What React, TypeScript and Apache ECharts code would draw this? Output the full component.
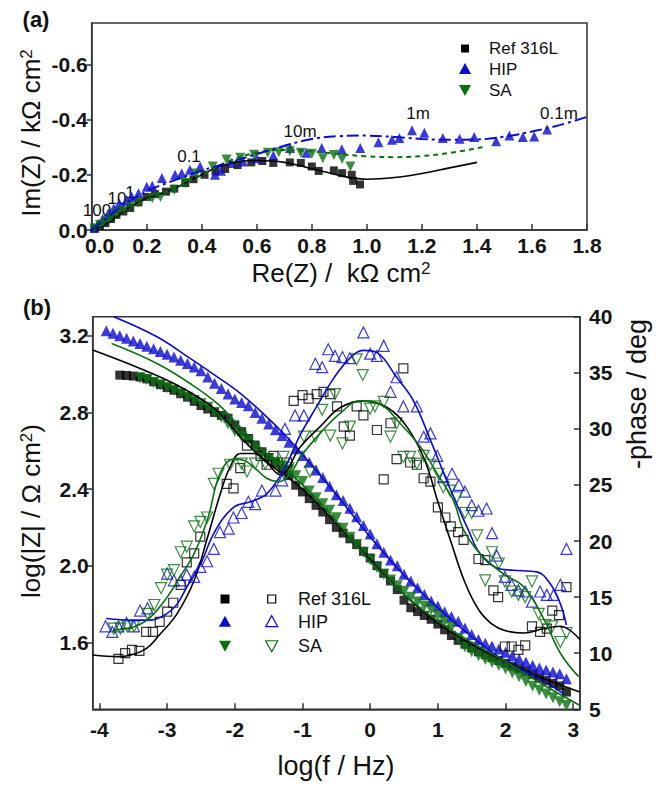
import React, { useEffect, useRef } from "react";
import * as echarts from "echarts";

// ---------- Panel (a): Nyquist data (Re(Z), -Im(Z)) in kΩ cm² ----------
const nyqRef = [[0.01,0.005],[0.03,0.015],[0.05,0.025],[0.07,0.04],[0.09,0.055],[0.115,0.067],[0.14,0.08],[0.17,0.1],[0.2,0.12],[0.23,0.13],[0.27,0.139],[0.3,0.15],[0.34,0.17],[0.37,0.184],[0.41,0.2],[0.45,0.212],[0.485,0.221],[0.53,0.235],[0.58,0.245],[0.62,0.25],[0.66,0.243],[0.72,0.245],[0.76,0.243],[0.8,0.23],[0.825,0.214],[0.88,0.216],[0.91,0.206],[0.945,0.2],[0.95,0.178],[0.975,0.165]];
const nyqHip = [[0.01,0.008],[0.025,0.024],[0.04,0.04],[0.06,0.06],[0.08,0.078],[0.1,0.097],[0.127,0.109],[0.145,0.121],[0.17,0.133],[0.2,0.157],[0.22,0.16],[0.255,0.188],[0.303,0.2],[0.327,0.206],[0.357,0.218],[0.394,0.23],[0.448,0.2],[0.47,0.215],[0.509,0.243],[0.55,0.248],[0.6,0.26],[0.66,0.27],[0.721,0.297],[0.78,0.28],[0.836,0.297],[0.909,0.293],[0.976,0.297],[1.042,0.318],[1.091,0.327],[1.118,0.333],[1.164,0.361],[1.209,0.352],[1.276,0.333],[1.337,0.331],[1.39,0.337],[1.47,0.322],[1.518,0.342],[1.567,0.337],[1.608,0.339],[1.655,0.364]];
const nyqSa = [[0.01,0.005],[0.03,0.018],[0.05,0.03],[0.07,0.045],[0.09,0.06],[0.11,0.072],[0.14,0.088],[0.17,0.1],[0.22,0.115],[0.25,0.12],[0.3,0.145],[0.34,0.17],[0.38,0.205],[0.44,0.23],[0.49,0.255],[0.54,0.262],[0.59,0.273],[0.64,0.28],[0.68,0.282],[0.72,0.285],[0.76,0.28],[0.8,0.276],[0.84,0.26],[0.88,0.272],[0.91,0.257],[0.94,0.23]];
const nyqRefFit = [[0,0],[0.05,0.02],[0.1,0.055],[0.15,0.09],[0.2,0.115],[0.25,0.13],[0.3,0.15],[0.35,0.175],[0.4,0.2],[0.45,0.225],[0.5,0.24],[0.55,0.25],[0.6,0.252],[0.65,0.25],[0.7,0.245],[0.75,0.235],[0.8,0.222],[0.85,0.21],[0.9,0.198],[0.95,0.188],[1.0,0.184],[1.1,0.19],[1.2,0.205],[1.3,0.225],[1.4,0.245]];
const nyqHipFit = [[0,0],[0.05,0.04],[0.1,0.08],[0.2,0.14],[0.3,0.18],[0.4,0.215],[0.5,0.245],[0.6,0.275],[0.7,0.305],[0.8,0.33],[0.9,0.34],[1.0,0.342],[1.1,0.337],[1.2,0.33],[1.3,0.327],[1.4,0.328],[1.5,0.338],[1.6,0.357],[1.7,0.38],[1.8,0.41]];
const nyqSaFit = [[0,0],[0.05,0.025],[0.1,0.06],[0.2,0.11],[0.3,0.15],[0.4,0.2],[0.5,0.25],[0.6,0.28],[0.7,0.29],[0.8,0.285],[0.9,0.275],[1.0,0.267],[1.1,0.264],[1.2,0.268],[1.3,0.279],[1.42,0.3]];

// ---------- Panel (b): Bode data (log f, log|Z|) and (log f, -phase) ----------
const modRef = [[-3.7,2.995],[-3.6,2.993],[-3.5,2.99],[-3.4,2.985],[-3.3,2.975],[-3.2,2.96],[-3.1,2.945],[-3.0,2.93],[-2.9,2.916],[-2.8,2.898],[-2.7,2.88],[-2.6,2.858],[-2.5,2.836],[-2.4,2.818],[-2.3,2.8],[-2.2,2.785],[-2.1,2.77],[-2.0,2.735],[-1.9,2.7],[-1.8,2.664],[-1.7,2.63],[-1.6,2.595],[-1.5,2.565],[-1.4,2.535],[-1.3,2.505],[-1.2,2.47],[-1.1,2.42],[-1.0,2.385],[-0.9,2.35],[-0.8,2.315],[-0.7,2.28],[-0.6,2.24],[-0.5,2.2],[-0.4,2.17],[-0.3,2.14],[-0.2,2.11],[-0.1,2.075],[0.0,2.04],[0.1,2.0],[0.2,1.96],[0.3,1.92],[0.4,1.875],[0.5,1.82],[0.6,1.78],[0.7,1.76],[0.8,1.74],[0.9,1.72],[1.0,1.695],[1.1,1.665],[1.2,1.635],[1.3,1.61],[1.4,1.59],[1.5,1.57],[1.6,1.55],[1.7,1.535],[1.8,1.52],[1.9,1.505],[2.0,1.49],[2.1,1.475],[2.2,1.462],[2.3,1.448],[2.4,1.432],[2.5,1.415],[2.6,1.4],[2.7,1.385],[2.8,1.372],[2.9,1.34]];
const modHip = [[-3.9,3.227],[-3.8,3.213],[-3.7,3.2],[-3.6,3.187],[-3.5,3.173],[-3.4,3.16],[-3.3,3.146],[-3.2,3.133],[-3.1,3.118],[-3.0,3.104],[-2.9,3.09],[-2.8,3.072],[-2.7,3.055],[-2.6,3.037],[-2.5,3.018],[-2.4,2.985],[-2.3,2.953],[-2.2,2.925],[-2.1,2.897],[-2.0,2.87],[-1.9,2.852],[-1.8,2.835],[-1.7,2.8],[-1.6,2.77],[-1.5,2.74],[-1.4,2.71],[-1.3,2.68],[-1.2,2.645],[-1.1,2.61],[-1.0,2.575],[-0.9,2.54],[-0.8,2.5],[-0.7,2.46],[-0.6,2.415],[-0.5,2.37],[-0.4,2.34],[-0.3,2.3],[-0.2,2.255],[-0.1,2.21],[0.0,2.165],[0.1,2.114],[0.2,2.07],[0.3,2.03],[0.4,2.0],[0.5,1.955],[0.6,1.92],[0.7,1.885],[0.8,1.85],[0.9,1.815],[1.0,1.79],[1.1,1.76],[1.2,1.735],[1.3,1.71],[1.4,1.675],[1.5,1.64],[1.6,1.615],[1.7,1.595],[1.8,1.58],[1.9,1.565],[2.0,1.548],[2.1,1.53],[2.2,1.512],[2.3,1.497],[2.4,1.48],[2.5,1.465],[2.6,1.455],[2.7,1.445],[2.8,1.435],[2.9,1.41]];
const modSa = [[-3.4,2.98],[-3.3,2.972],[-3.2,2.957],[-3.1,2.945],[-3.0,2.93],[-2.9,2.916],[-2.8,2.898],[-2.7,2.88],[-2.6,2.862],[-2.5,2.845],[-2.4,2.827],[-2.3,2.8],[-2.2,2.775],[-2.1,2.74],[-2.0,2.7],[-1.9,2.675],[-1.8,2.65],[-1.7,2.61],[-1.6,2.58],[-1.5,2.56],[-1.4,2.54],[-1.3,2.52],[-1.2,2.5],[-1.1,2.47],[-1.0,2.44],[-0.9,2.39],[-0.8,2.355],[-0.7,2.323],[-0.6,2.29],[-0.5,2.25],[-0.4,2.195],[-0.3,2.148],[-0.2,2.11],[-0.1,2.07],[0.0,2.03],[0.1,1.99],[0.2,1.955],[0.3,1.925],[0.4,1.895],[0.5,1.865],[0.6,1.835],[0.7,1.81],[0.8,1.79],[0.9,1.77],[1.0,1.74],[1.1,1.71],[1.2,1.68],[1.3,1.62],[1.4,1.575],[1.5,1.55],[1.6,1.53],[1.7,1.51],[1.8,1.495],[1.9,1.48],[2.0,1.46],[2.1,1.44],[2.2,1.42],[2.3,1.395],[2.4,1.37],[2.5,1.35],[2.6,1.33],[2.7,1.31],[2.8,1.29],[2.9,1.27]];
const phRef = [[-3.72,9.5],[-3.62,10.0],[-3.52,10.3],[-3.41,10.2],[-3.31,11.9],[-3.21,11.9],[-3.11,12.8],[-3.0,13.7],[-2.91,14.5],[-2.8,16.1],[-2.71,18.1],[-2.6,18.9],[-2.51,20.4],[-2.12,25.1],[-2.02,24.7],[-1.92,26.5],[-1.82,28.5],[-1.62,27.6],[-1.53,26.8],[-1.43,27.6],[-1.23,27.0],[-1.13,32.5],[-1.0,33.0],[-0.91,32.7],[-0.79,33.1],[-0.69,33.3],[-0.59,33.1],[-0.49,32.0],[-0.39,30.2],[-0.3,29.4],[-0.2,32.0],[-0.1,31.2],[0.1,29.9],[0.2,25.5],[0.3,30.5],[0.39,27.3],[0.49,35.4],[0.59,27.0],[0.69,26.8],[0.79,25.6],[0.89,25.3],[1.0,23.0],[1.11,22.1],[1.19,21.3],[1.3,20.8],[1.38,20.1],[1.6,18.4],[1.7,18.3],[1.82,15.6],[1.89,15.0],[1.99,10.6],[2.09,10.6],[2.19,10.3],[2.29,10.7],[2.39,12.4],[2.51,11.9],[2.61,12.2],[2.69,13.8],[2.79,13.4],[2.9,15.9]];
const phHip = [[-3.91,12.4],[-3.81,11.9],[-3.72,12.4],[-3.6,12.7],[-3.49,12.4],[-3.4,13.8],[-3.29,14.0],[-3.0,17.1],[-2.9,16.5],[-2.8,16.5],[-2.71,17.0],[-2.6,16.8],[-2.51,17.7],[-2.41,18.2],[-2.31,19.3],[-2.22,20.8],[-2.09,21.1],[-2.02,22.1],[-1.9,22.5],[-1.8,23.5],[-1.7,23.3],[-1.6,24.5],[-1.4,24.5],[-1.3,25.4],[-1.26,30.0],[-1.11,31.2],[-0.98,31.2],[-0.81,35.8],[-0.71,35.5],[-0.62,37.1],[-0.52,36.5],[-0.41,36.4],[-0.3,36.3],[-0.1,38.6],[0.0,36.7],[0.1,36.5],[0.2,37.4],[0.3,33.3],[0.39,34.6],[0.49,32.0],[0.69,32.0],[0.79,29.3],[0.89,29.6],[0.99,27.6],[1.08,25.7],[1.21,26.0],[1.31,25.0],[1.4,24.4],[1.5,23.2],[1.6,22.7],[1.72,22.9],[1.8,20.7],[1.87,18.7],[1.99,16.8],[2.09,16.1],[2.19,15.6],[2.29,15.5],[2.39,14.6],[2.51,15.5],[2.61,15.2],[2.71,15.2],[2.81,16.1],[2.9,19.3]];
const phSa = [[-3.79,12.2],[-3.69,12.2],[-3.59,12.4],[-3.49,12.4],[-3.29,13.5],[-3.19,14.3],[-3.09,15.8],[-3.0,17.0],[-2.9,17.4],[-2.8,19.0],[-2.71,19.5],[-2.6,21.3],[-2.51,21.7],[-2.41,22.1],[-2.31,25.1],[-2.24,26.0],[-2.07,26.8],[-1.9,26.9],[-1.82,26.2],[-1.7,26.9],[-1.55,26.9],[-1.38,26.9],[-1.28,27.5],[-1.21,26.5],[-0.98,29.3],[-0.89,26.2],[-0.81,29.3],[-0.71,31.7],[-0.59,29.4],[-0.52,33.1],[-0.41,28.7],[-0.3,30.2],[-0.2,36.2],[-0.11,34.8],[0.0,31.8],[0.07,32.0],[0.2,32.4],[0.3,29.3],[0.39,30.5],[0.49,27.5],[0.59,27.5],[0.69,26.9],[0.79,27.6],[0.89,26.8],[1.01,26.0],[1.08,24.8],[1.18,24.5],[1.28,23.9],[1.4,22.5],[1.5,22.5],[1.58,20.5],[1.7,16.5],[1.8,19.0],[1.9,18.0],[1.99,16.4],[2.09,15.5],[2.19,15.2],[2.29,15.0],[2.39,16.4],[2.49,13.5],[2.59,12.5],[2.69,12.4],[2.81,11.0],[2.9,11.8]];
const modRefFit = [[-4.1,3.126],[-3.4,3.03],[-2.9,2.951],[-2.4,2.847],[-2.17,2.776],[-1.92,2.672],[-1.67,2.585],[-1.43,2.515],[-1.0,2.4],[-0.5,2.22],[0,2.03],[0.5,1.85],[1.0,1.7],[1.5,1.59],[2.0,1.5],[2.5,1.42],[3.1,1.34]];
const modHipFit = [[-3.79,3.3],[-3.15,3.195],[-2.66,3.082],[-2.26,2.986],[-1.92,2.9],[-1.58,2.794],[-1.28,2.69],[-1.0,2.58],[-0.5,2.37],[0,2.15],[0.5,1.95],[1.0,1.78],[1.5,1.63],[2.0,1.5],[2.5,1.41],[2.86,1.33]];
const modSaFit = [[-3.82,3.16],[-3.15,3.056],[-2.66,2.951],[-2.26,2.847],[-1.92,2.724],[-1.58,2.602],[-1.2,2.49],[-0.8,2.35],[-0.4,2.19],[0,2.02],[0.5,1.85],[1.0,1.71],[1.5,1.6],[2.0,1.5],[2.5,1.39],[3.1,1.27]];
const phRefFit = [[-4.1,9.84],[-3.73,9.7],[-3.34,10.3],[-3.09,11.8],[-2.85,13.55],[-2.6,16.5],[-2.4,20.4],[-2.2,24.5],[-2.07,26.6],[-1.92,27.8],[-1.72,27.8],[-1.53,27.0],[-1.33,25.9],[-1.03,28.4],[-0.74,30.2],[-0.44,31.9],[-0.1,32.5],[0.25,31.9],[0.54,30.2],[0.8,27.3],[1.0,23.5],[1.2,19.8],[1.4,16.3],[1.6,13.9],[1.8,12.6],[2.0,12.0],[2.27,11.8],[2.57,12.2],[2.81,12.4],[3.1,11.2]];
const phHipFit = [[-3.9,13.1],[-3.5,12.95],[-3.25,12.95],[-3.0,13.55],[-2.85,14.4],[-2.71,15.9],[-2.51,17.9],[-2.3,20.8],[-2.02,23.0],[-1.77,23.5],[-1.53,24.2],[-1.28,26.3],[-1.03,29.5],[-0.79,32.0],[-0.54,34.5],[-0.3,36.3],[-0.1,37.0],[0.1,36.8],[0.39,34.6],[0.64,32.5],[0.89,29.0],[1.13,25.4],[1.3,23.0],[1.45,21.0],[1.62,18.9],[1.87,17.6],[2.11,17.4],[2.46,17.25],[2.66,16.2],[2.81,14.4],[2.9,12.5]];
const phSaFit = [[-3.79,12.06],[-3.49,12.35],[-3.25,13.2],[-3.0,15.0],[-2.81,16.8],[-2.6,18.9],[-2.4,22.0],[-2.22,26.0],[-2.02,27.3],[-1.87,27.2],[-1.72,26.6],[-1.53,25.6],[-1.35,25.3],[-1.18,26.0],[-1.03,27.5],[-0.74,29.6],[-0.44,31.4],[-0.15,32.5],[0.15,32.2],[0.44,30.5],[0.74,28.4],[0.99,26.0],[1.23,23.6],[1.38,21.0],[1.62,18.9],[1.96,17.1],[2.27,15.9],[2.57,13.0],[2.81,10.0],[3.08,7.9]];

// tick values
const nyqXTicks = [0, 0.2, 0.4, 0.6, 0.8, 1.0, 1.2, 1.4, 1.6, 1.8];
const nyqYTicks = [0, 0.2, 0.4, 0.6];
const bodeXTicks = [-4, -3, -2, -1, 0, 1, 2, 3];
const bodeYTicks = [1.6, 2.0, 2.4, 2.8, 3.2];
const phaseTicks = [5, 10, 15, 20, 25, 30, 35, 40];
const legendNames = ["Ref 316L", "HIP", "SA"];
const freqAnnotations = ["100", "10", "1", "0.1", "10m", "1m", "0.1m"];

const FONT = "'Liberation Sans', Arial, Helvetica, sans-serif";
const BLACK = "#000000";
const BLUE = "#0a0ad0";
const GREEN = "#0a7010";
const AXIS = "#333333";

export default function App() {
  const ref = useRef<HTMLDivElement>(null);
  useEffect(() => {
    document.body.style.margin = "0";
    if (!ref.current) return;
    const chart = echarts.init(ref.current, undefined, { renderer: "svg" });

    const tickLabel = { fontFamily: FONT, fontWeight: "bold" as const, fontSize: 21, color: "#151515" };
    const axisLine = { show: true, onZero: false, lineStyle: { color: AXIS, width: 1.5 } };

    const scatter = (name: string, data: number[][], xi: number, yi: number, symbol: string, size: number, color: string, open: boolean, rotate = 0) => ({
      name, type: "scatter", xAxisIndex: xi, yAxisIndex: yi, data, symbol, symbolSize: size, symbolRotate: rotate,
      itemStyle: open ? { color: "rgba(0,0,0,0)", borderColor: color, borderWidth: 1.2 } : { color },
      silent: true,
    });
    const fitLine = (data: number[][], xi: number, yi: number, color: string, type: any = "solid", width = 1.6) => ({
      type: "line", xAxisIndex: xi, yAxisIndex: yi, data, showSymbol: false, smooth: 0.4,
      lineStyle: { color, width, type }, silent: true,
    });

    const titleRich = (text: string, size: number) => ({
      text,
      rich: {
        m: { fontFamily: FONT, fontSize: size, fill: "#111" },
        s: { fontFamily: FONT, fontSize: Math.round(size * 0.65), fill: "#111", verticalAlign: "top" },
      },
      align: "center", verticalAlign: "middle", textAlign: "center", textVerticalAlign: "middle",
    });
    const plainText = (text: string, x: number, y: number, size: number, extra: any = {}) => ({
      type: "text", x, y, silent: true,
      style: { text, fontFamily: FONT, fontSize: size, fill: "#111", align: "center", verticalAlign: "middle", textAlign: "center", textVerticalAlign: "middle", ...extra },
    });
    const upTri = (cx: number, cy: number, s: number, color: string, open: boolean) => ({
      type: "polygon", silent: true,
      shape: { points: [[cx, cy - s * 0.55], [cx - s * 0.55, cy + s * 0.45], [cx + s * 0.55, cy + s * 0.45]] },
      style: open ? { fill: "none", stroke: color, lineWidth: 1.2 } : { fill: color },
    });
    const downTri = (cx: number, cy: number, s: number, color: string, open: boolean) => ({
      type: "polygon", silent: true,
      shape: { points: [[cx, cy + s * 0.55], [cx - s * 0.55, cy - s * 0.45], [cx + s * 0.55, cy - s * 0.45]] },
      style: open ? { fill: "none", stroke: color, lineWidth: 1.2 } : { fill: color },
    });
    const square = (cx: number, cy: number, s: number, color: string, open: boolean) => ({
      type: "rect", silent: true,
      shape: { x: cx - s / 2, y: cy - s / 2, width: s, height: s },
      style: open ? { fill: "none", stroke: color, lineWidth: 1.2 } : { fill: color },
    });
    const leftText = { align: "left", textAlign: "left" };

    const option: any = {
      animation: false,
      backgroundColor: "#ffffff",
      grid: [
        { left: 91.7, top: 23, width: 495.3, height: 207, show: true, borderColor: AXIS, borderWidth: 1.5, backgroundColor: "transparent", containLabel: false, outerBoundsMode: "none" },
        { left: 92.7, top: 316.7, width: 487.3, height: 392.6, show: true, borderColor: AXIS, borderWidth: 1.5, backgroundColor: "transparent", containLabel: false, outerBoundsMode: "none" },
      ],
      xAxis: [
        {
          type: "value", gridIndex: 0, min: 0, max: 1.8,
          axisLine, splitLine: { show: false },
          axisTick: { show: true, inside: true, length: 6, lineStyle: { color: AXIS, width: 1.5 }, customValues: nyqXTicks },
          axisLabel: {
            ...tickLabel, margin: 5, customValues: nyqXTicks,
            formatter: (v: number) => (Math.abs(v) < 1e-9 ? "{z|0.0}" : v.toFixed(1)),
            rich: { z: { ...tickLabel, padding: [0, 0, 0, 16] } },
          },
        },
        {
          type: "value", gridIndex: 1, min: -4.1, max: 3.1,
          axisLine, splitLine: { show: false },
          axisTick: { show: true, inside: true, length: 6, lineStyle: { color: AXIS, width: 1.5 }, customValues: bodeXTicks },
          axisLabel: { ...tickLabel, margin: 10, customValues: bodeXTicks, formatter: (v: number) => String(Math.round(v)) },
        },
      ],
      yAxis: [
        {
          type: "value", gridIndex: 0, min: 0, max: 0.75,
          axisLine, splitLine: { show: false },
          axisTick: { show: true, inside: false, length: 5, lineStyle: { color: AXIS, width: 1.5 }, customValues: nyqYTicks },
          axisLabel: { ...tickLabel, margin: 4, customValues: nyqYTicks, formatter: (v: number) => (Math.abs(v) < 1e-9 ? "0.0" : "-" + v.toFixed(1)) },
        },
        {
          type: "value", gridIndex: 1, min: 1.25, max: 3.3, position: "left",
          axisLine, splitLine: { show: false },
          axisTick: { show: true, inside: false, length: 6, lineStyle: { color: AXIS, width: 1.5 }, customValues: bodeYTicks },
          axisLabel: { ...tickLabel, margin: 4, customValues: bodeYTicks, formatter: (v: number) => v.toFixed(1) },
        },
        {
          type: "value", gridIndex: 1, min: 5, max: 40, position: "right",
          axisLine, splitLine: { show: false },
          axisTick: { show: true, inside: true, length: 6, lineStyle: { color: AXIS, width: 1.5 }, customValues: phaseTicks },
          axisLabel: { ...tickLabel, margin: 9, customValues: phaseTicks, formatter: (v: number) => String(Math.round(v)) },
        },
      ],
      series: [
        // panel (a)
        scatter(legendNames[0], nyqRef, 0, 0, "rect", 8, BLACK, false),
        scatter(legendNames[1], nyqHip, 0, 0, "triangle", 10, BLUE, false),
        scatter(legendNames[2], nyqSa, 0, 0, "triangle", 10, GREEN, false, 180),
        fitLine(nyqRefFit, 0, 0, BLACK, "solid", 1.6),
        fitLine(nyqSaFit, 0, 0, GREEN, [5, 4], 2),
        fitLine(nyqHipFit, 0, 0, BLUE, [12, 4, 3, 4], 2),
        // panel (b) modulus (filled)
        scatter(legendNames[0] + " |Z|", modRef, 1, 1, "rect", 9, BLACK, false),
        scatter(legendNames[1] + " |Z|", modHip, 1, 1, "triangle", 11, BLUE, false),
        scatter(legendNames[2] + " |Z|", modSa, 1, 1, "triangle", 11, GREEN, false, 180),
        // panel (b) phase (open)
        scatter(legendNames[0] + " phase", phRef, 1, 2, "rect", 9, BLACK, true),
        scatter(legendNames[1] + " phase", phHip, 1, 2, "triangle", 11, BLUE, true),
        scatter(legendNames[2] + " phase", phSa, 1, 2, "triangle", 11, GREEN, true, 180),
        // fits
        fitLine(modRefFit, 1, 1, BLACK),
        fitLine(modHipFit, 1, 1, BLUE),
        fitLine(modSaFit, 1, 1, GREEN),
        fitLine(phRefFit, 1, 2, BLACK),
        fitLine(phHipFit, 1, 2, BLUE),
        fitLine(phSaFit, 1, 2, GREEN),
      ],
      graphic: [
        // panel labels
        plainText("(a)", 36, 19, 22, { fontWeight: "bold" }),
        plainText("(b)", 37, 307, 22, { fontWeight: "bold" }),
        // axis titles
        { type: "text", x: 31, y: 133, rotation: Math.PI / 2, silent: true, style: titleRich("{m|Im(Z) / kΩ cm}{s|2}", 26) },
        { type: "text", x: 341, y: 273, silent: true, style: titleRich("{m|Re(Z) /  kΩ cm}{s|2}", 26) },
        { type: "text", x: 31, y: 511, rotation: Math.PI / 2, silent: true, style: titleRich("{m|log(|Z| / Ω cm}{s|2}{m|)}", 26) },
        { type: "text", x: 637, y: 394, rotation: Math.PI / 2, silent: true, style: titleRich("{m|-phase / deg}", 27) },
        plainText("log(f / Hz)", 336, 766, 27),
        // frequency annotations (a)
        plainText(freqAnnotations[0], 97, 210, 17),
        plainText(freqAnnotations[1], 117, 198, 17),
        plainText(freqAnnotations[2], 130, 192, 17),
        plainText(freqAnnotations[3], 189, 156, 17),
        plainText(freqAnnotations[4], 300, 131, 17),
        plainText(freqAnnotations[5], 418, 113, 17),
        plainText(freqAnnotations[6], 559, 113, 17),
        // legend (a)
        square(465, 48.5, 8, BLACK, false),
        upTri(465, 69, 11, BLUE, false),
        downTri(465, 90, 11, GREEN, false),
        plainText(legendNames[0], 489, 48.5, 17, leftText),
        plainText(legendNames[1], 489, 69, 17, leftText),
        plainText(legendNames[2], 489, 90, 17, leftText),
        // legend (b)
        square(225, 599, 9, BLACK, false),
        square(271.7, 599, 8, BLACK, true),
        upTri(225, 621.7, 11, BLUE, false),
        upTri(271.7, 621.7, 11, BLUE, true),
        downTri(225, 645.7, 11, GREEN, false),
        downTri(271.7, 645.7, 11, GREEN, true),
        plainText(legendNames[0], 298, 599, 18, leftText),
        plainText(legendNames[1], 298, 621.7, 18, leftText),
        plainText(legendNames[2], 298, 645.7, 18, leftText),
      ],
    };
    chart.setOption(option);
    return () => chart.dispose();
  }, []);
  return <div ref={ref} style={{ width: 666, height: 791 }} />;
}
